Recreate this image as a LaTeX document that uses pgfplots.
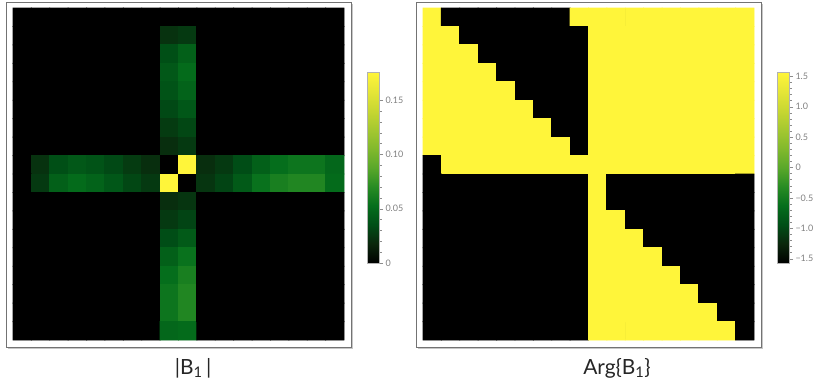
\documentclass[border=0pt]{standalone}
\usepackage{pgfplots}
\pgfplotsset{compat=1.18}
\usepackage{fontspec}
\setmainfont{Lato}

\pgfplotsset{
  colormap={avocado}{rgb255=(0,0,0) rgb255=(10,38,12) rgb255=(0,78,22) rgb255=(5,110,28)
    rgb255=(40,140,35) rgb255=(90,168,42) rgb255=(130,185,45) rgb255=(165,200,48)
    rgb255=(200,215,50) rgb255=(230,230,55) rgb255=(255,245,58)},
  mapaxis/.style={
    scale only axis, width=331bp, height=332bp,
    xmin=-0.5, xmax=17.5, ymin=-0.5, ymax=17.5, y dir=reverse,
    axis line style={draw=none}, ticks=none, clip=false,
    axis background/.style={fill=black},
    colormap name=avocado,
    colorbar,
    colorbar style={
      at={(parent axis.south east)}, anchor=south west, xshift=15bp, yshift=77bp,
      scale only axis, width=12bp, height=191bp, clip=true,
      axis background/.style={},
      axis line style={draw=black!30, line width=0.5bp},
      ytick pos=right, yticklabel pos=right, tick align=outside,
      major tick length=3.5bp, minor tick length=2bp, minor y tick num=4,
      tick style={draw=black!45, line width=0.4bp},
      yticklabel style={font=\fontsize{9}{10}\selectfont, text=black!50, xshift=-1bp},
    },
  },
  % cells with edges in their own colour, so no seams show between them
  cells/.style={matrix plot*, mesh/cols=18, point meta=explicit,
    shader=faceted, faceted color=mapped color, line width=0.9bp,
    line cap=rect, line join=miter},
}

\begin{document}
\begin{tikzpicture}[x=1bp, y=1bp]
\path[use as bounding box] (0,0) rectangle (814,-390);

% magnitude |B_1|
\begin{axis}[mapaxis, at={(13bp,-340bp)}, anchor=south west,
  point meta min=0, point meta max=0.176,
  colorbar style={ytick={0,0.05,0.1,0.15}, yticklabels={0,0.05,0.10,0.15}}]
\addplot[cells] coordinates {
(0,0) [0] (1,0) [0] (2,0) [0] (3,0) [0] (4,0) [0] (5,0) [0] (6,0) [0] (7,0) [0] (8,0) [0] (9,0) [0] (10,0) [0] (11,0) [0] (12,0) [0] (13,0) [0] (14,0) [0] (15,0) [0] (16,0) [0] (17,0) [0]
(0,1) [0] (1,1) [0] (2,1) [0] (3,1) [0] (4,1) [0] (5,1) [0] (6,1) [0] (7,1) [0] (8,1) [0.023] (9,1) [0.026] (10,1) [0] (11,1) [0] (12,1) [0] (13,1) [0] (14,1) [0] (15,1) [0] (16,1) [0] (17,1) [0]
(0,2) [0] (1,2) [0] (2,2) [0] (3,2) [0] (4,2) [0] (5,2) [0] (6,2) [0] (7,2) [0] (8,2) [0.036] (9,2) [0.045] (10,2) [0] (11,2) [0] (12,2) [0] (13,2) [0] (14,2) [0] (15,2) [0] (16,2) [0] (17,2) [0]
(0,3) [0] (1,3) [0] (2,3) [0] (3,3) [0] (4,3) [0] (5,3) [0] (6,3) [0] (7,3) [0] (8,3) [0.041] (9,3) [0.051] (10,3) [0] (11,3) [0] (12,3) [0] (13,3) [0] (14,3) [0] (15,3) [0] (16,3) [0] (17,3) [0]
(0,4) [0] (1,4) [0] (2,4) [0] (3,4) [0] (4,4) [0] (5,4) [0] (6,4) [0] (7,4) [0] (8,4) [0.038] (9,4) [0.047] (10,4) [0] (11,4) [0] (12,4) [0] (13,4) [0] (14,4) [0] (15,4) [0] (16,4) [0] (17,4) [0]
(0,5) [0] (1,5) [0] (2,5) [0] (3,5) [0] (4,5) [0] (5,5) [0] (6,5) [0] (7,5) [0] (8,5) [0.033] (9,5) [0.040] (10,5) [0] (11,5) [0] (12,5) [0] (13,5) [0] (14,5) [0] (15,5) [0] (16,5) [0] (17,5) [0]
(0,6) [0] (1,6) [0] (2,6) [0] (3,6) [0] (4,6) [0] (5,6) [0] (6,6) [0] (7,6) [0] (8,6) [0.027] (9,6) [0.032] (10,6) [0] (11,6) [0] (12,6) [0] (13,6) [0] (14,6) [0] (15,6) [0] (16,6) [0] (17,6) [0]
(0,7) [0] (1,7) [0] (2,7) [0] (3,7) [0] (4,7) [0] (5,7) [0] (6,7) [0] (7,7) [0] (8,7) [0.021] (9,7) [0.026] (10,7) [0] (11,7) [0] (12,7) [0] (13,7) [0] (14,7) [0] (15,7) [0] (16,7) [0] (17,7) [0]
(0,8) [0] (1,8) [0.023] (2,8) [0.036] (3,8) [0.041] (4,8) [0.038] (5,8) [0.033] (6,8) [0.027] (7,8) [0.021] (8,8) [0] (9,8) [0.176] (10,8) [0.021] (11,8) [0.026] (12,8) [0.035] (13,8) [0.045] (14,8) [0.053] (15,8) [0.057] (16,8) [0.057] (17,8) [0.049]
(0,9) [0] (1,9) [0.026] (2,9) [0.045] (3,9) [0.051] (4,9) [0.047] (5,9) [0.040] (6,9) [0.032] (7,9) [0.026] (8,9) [0.176] (9,9) [0] (10,9) [0.024] (11,9) [0.031] (12,9) [0.042] (13,9) [0.055] (14,9) [0.063] (15,9) [0.067] (16,9) [0.067] (17,9) [0.051]
(0,10) [0] (1,10) [0] (2,10) [0] (3,10) [0] (4,10) [0] (5,10) [0] (6,10) [0] (7,10) [0] (8,10) [0.021] (9,10) [0.024] (10,10) [0] (11,10) [0] (12,10) [0] (13,10) [0] (14,10) [0] (15,10) [0] (16,10) [0] (17,10) [0]
(0,11) [0] (1,11) [0] (2,11) [0] (3,11) [0] (4,11) [0] (5,11) [0] (6,11) [0] (7,11) [0] (8,11) [0.026] (9,11) [0.031] (10,11) [0] (11,11) [0] (12,11) [0] (13,11) [0] (14,11) [0] (15,11) [0] (16,11) [0] (17,11) [0]
(0,12) [0] (1,12) [0] (2,12) [0] (3,12) [0] (4,12) [0] (5,12) [0] (6,12) [0] (7,12) [0] (8,12) [0.035] (9,12) [0.042] (10,12) [0] (11,12) [0] (12,12) [0] (13,12) [0] (14,12) [0] (15,12) [0] (16,12) [0] (17,12) [0]
(0,13) [0] (1,13) [0] (2,13) [0] (3,13) [0] (4,13) [0] (5,13) [0] (6,13) [0] (7,13) [0] (8,13) [0.045] (9,13) [0.055] (10,13) [0] (11,13) [0] (12,13) [0] (13,13) [0] (14,13) [0] (15,13) [0] (16,13) [0] (17,13) [0]
(0,14) [0] (1,14) [0] (2,14) [0] (3,14) [0] (4,14) [0] (5,14) [0] (6,14) [0] (7,14) [0] (8,14) [0.053] (9,14) [0.063] (10,14) [0] (11,14) [0] (12,14) [0] (13,14) [0] (14,14) [0] (15,14) [0] (16,14) [0] (17,14) [0]
(0,15) [0] (1,15) [0] (2,15) [0] (3,15) [0] (4,15) [0] (5,15) [0] (6,15) [0] (7,15) [0] (8,15) [0.057] (9,15) [0.067] (10,15) [0] (11,15) [0] (12,15) [0] (13,15) [0] (14,15) [0] (15,15) [0] (16,15) [0] (17,15) [0]
(0,16) [0] (1,16) [0] (2,16) [0] (3,16) [0] (4,16) [0] (5,16) [0] (6,16) [0] (7,16) [0] (8,16) [0.057] (9,16) [0.067] (10,16) [0] (11,16) [0] (12,16) [0] (13,16) [0] (14,16) [0] (15,16) [0] (16,16) [0] (17,16) [0]
(0,17) [0] (1,17) [0] (2,17) [0] (3,17) [0] (4,17) [0] (5,17) [0] (6,17) [0] (7,17) [0] (8,17) [0.049] (9,17) [0.051] (10,17) [0] (11,17) [0] (12,17) [0] (13,17) [0] (14,17) [0] (15,17) [0] (16,17) [0] (17,17) [0]
};
\end{axis}

% phase Arg{B_1}
\begin{axis}[mapaxis, at={(423bp,-340bp)}, anchor=south west,
  point meta min=-1.5708, point meta max=1.5708,
  colorbar style={ytick={-1.5,-1,-0.5,0,0.5,1,1.5},
    yticklabels={−1.5,−1.0,−0.5,0,0.5,1.0,1.5}}]
\addplot[cells] coordinates {
(0,0) [1.571] (1,0) [-1.571] (2,0) [-1.571] (3,0) [-1.571] (4,0) [-1.571] (5,0) [-1.571] (6,0) [-1.571] (7,0) [-1.571] (8,0) [1.571] (9,0) [1.571] (10,0) [1.571] (11,0) [1.571] (12,0) [1.571] (13,0) [1.571] (14,0) [1.571] (15,0) [1.571] (16,0) [1.571] (17,0) [1.571]
(0,1) [1.571] (1,1) [1.571] (2,1) [-1.571] (3,1) [-1.571] (4,1) [-1.571] (5,1) [-1.571] (6,1) [-1.571] (7,1) [-1.571] (8,1) [-1.571] (9,1) [1.571] (10,1) [1.571] (11,1) [1.571] (12,1) [1.571] (13,1) [1.571] (14,1) [1.571] (15,1) [1.571] (16,1) [1.571] (17,1) [1.571]
(0,2) [1.571] (1,2) [1.571] (2,2) [1.571] (3,2) [-1.571] (4,2) [-1.571] (5,2) [-1.571] (6,2) [-1.571] (7,2) [-1.571] (8,2) [-1.571] (9,2) [1.571] (10,2) [1.571] (11,2) [1.571] (12,2) [1.571] (13,2) [1.571] (14,2) [1.571] (15,2) [1.571] (16,2) [1.571] (17,2) [1.571]
(0,3) [1.571] (1,3) [1.571] (2,3) [1.571] (3,3) [1.571] (4,3) [-1.571] (5,3) [-1.571] (6,3) [-1.571] (7,3) [-1.571] (8,3) [-1.571] (9,3) [1.571] (10,3) [1.571] (11,3) [1.571] (12,3) [1.571] (13,3) [1.571] (14,3) [1.571] (15,3) [1.571] (16,3) [1.571] (17,3) [1.571]
(0,4) [1.571] (1,4) [1.571] (2,4) [1.571] (3,4) [1.571] (4,4) [1.571] (5,4) [-1.571] (6,4) [-1.571] (7,4) [-1.571] (8,4) [-1.571] (9,4) [1.571] (10,4) [1.571] (11,4) [1.571] (12,4) [1.571] (13,4) [1.571] (14,4) [1.571] (15,4) [1.571] (16,4) [1.571] (17,4) [1.571]
(0,5) [1.571] (1,5) [1.571] (2,5) [1.571] (3,5) [1.571] (4,5) [1.571] (5,5) [1.571] (6,5) [-1.571] (7,5) [-1.571] (8,5) [-1.571] (9,5) [1.571] (10,5) [1.571] (11,5) [1.571] (12,5) [1.571] (13,5) [1.571] (14,5) [1.571] (15,5) [1.571] (16,5) [1.571] (17,5) [1.571]
(0,6) [1.571] (1,6) [1.571] (2,6) [1.571] (3,6) [1.571] (4,6) [1.571] (5,6) [1.571] (6,6) [1.571] (7,6) [-1.571] (8,6) [-1.571] (9,6) [1.571] (10,6) [1.571] (11,6) [1.571] (12,6) [1.571] (13,6) [1.571] (14,6) [1.571] (15,6) [1.571] (16,6) [1.571] (17,6) [1.571]
(0,7) [1.571] (1,7) [1.571] (2,7) [1.571] (3,7) [1.571] (4,7) [1.571] (5,7) [1.571] (6,7) [1.571] (7,7) [1.571] (8,7) [-1.571] (9,7) [1.571] (10,7) [1.571] (11,7) [1.571] (12,7) [1.571] (13,7) [1.571] (14,7) [1.571] (15,7) [1.571] (16,7) [1.571] (17,7) [1.571]
(0,8) [-1.571] (1,8) [1.571] (2,8) [1.571] (3,8) [1.571] (4,8) [1.571] (5,8) [1.571] (6,8) [1.571] (7,8) [1.571] (8,8) [1.571] (9,8) [1.571] (10,8) [1.571] (11,8) [1.571] (12,8) [1.571] (13,8) [1.571] (14,8) [1.571] (15,8) [1.571] (16,8) [1.571] (17,8) [1.571]
(0,9) [-1.571] (1,9) [-1.571] (2,9) [-1.571] (3,9) [-1.571] (4,9) [-1.571] (5,9) [-1.571] (6,9) [-1.571] (7,9) [-1.571] (8,9) [-1.571] (9,9) [1.571] (10,9) [-1.571] (11,9) [-1.571] (12,9) [-1.571] (13,9) [-1.571] (14,9) [-1.571] (15,9) [-1.571] (16,9) [-1.571] (17,9) [-1.571]
(0,10) [-1.571] (1,10) [-1.571] (2,10) [-1.571] (3,10) [-1.571] (4,10) [-1.571] (5,10) [-1.571] (6,10) [-1.571] (7,10) [-1.571] (8,10) [-1.571] (9,10) [1.571] (10,10) [-1.571] (11,10) [-1.571] (12,10) [-1.571] (13,10) [-1.571] (14,10) [-1.571] (15,10) [-1.571] (16,10) [-1.571] (17,10) [-1.571]
(0,11) [-1.571] (1,11) [-1.571] (2,11) [-1.571] (3,11) [-1.571] (4,11) [-1.571] (5,11) [-1.571] (6,11) [-1.571] (7,11) [-1.571] (8,11) [-1.571] (9,11) [1.571] (10,11) [1.571] (11,11) [-1.571] (12,11) [-1.571] (13,11) [-1.571] (14,11) [-1.571] (15,11) [-1.571] (16,11) [-1.571] (17,11) [-1.571]
(0,12) [-1.571] (1,12) [-1.571] (2,12) [-1.571] (3,12) [-1.571] (4,12) [-1.571] (5,12) [-1.571] (6,12) [-1.571] (7,12) [-1.571] (8,12) [-1.571] (9,12) [1.571] (10,12) [1.571] (11,12) [1.571] (12,12) [-1.571] (13,12) [-1.571] (14,12) [-1.571] (15,12) [-1.571] (16,12) [-1.571] (17,12) [-1.571]
(0,13) [-1.571] (1,13) [-1.571] (2,13) [-1.571] (3,13) [-1.571] (4,13) [-1.571] (5,13) [-1.571] (6,13) [-1.571] (7,13) [-1.571] (8,13) [-1.571] (9,13) [1.571] (10,13) [1.571] (11,13) [1.571] (12,13) [1.571] (13,13) [-1.571] (14,13) [-1.571] (15,13) [-1.571] (16,13) [-1.571] (17,13) [-1.571]
(0,14) [-1.571] (1,14) [-1.571] (2,14) [-1.571] (3,14) [-1.571] (4,14) [-1.571] (5,14) [-1.571] (6,14) [-1.571] (7,14) [-1.571] (8,14) [-1.571] (9,14) [1.571] (10,14) [1.571] (11,14) [1.571] (12,14) [1.571] (13,14) [1.571] (14,14) [-1.571] (15,14) [-1.571] (16,14) [-1.571] (17,14) [-1.571]
(0,15) [-1.571] (1,15) [-1.571] (2,15) [-1.571] (3,15) [-1.571] (4,15) [-1.571] (5,15) [-1.571] (6,15) [-1.571] (7,15) [-1.571] (8,15) [-1.571] (9,15) [1.571] (10,15) [1.571] (11,15) [1.571] (12,15) [1.571] (13,15) [1.571] (14,15) [1.571] (15,15) [-1.571] (16,15) [-1.571] (17,15) [-1.571]
(0,16) [-1.571] (1,16) [-1.571] (2,16) [-1.571] (3,16) [-1.571] (4,16) [-1.571] (5,16) [-1.571] (6,16) [-1.571] (7,16) [-1.571] (8,16) [-1.571] (9,16) [1.571] (10,16) [1.571] (11,16) [1.571] (12,16) [1.571] (13,16) [1.571] (14,16) [1.571] (15,16) [1.571] (16,16) [-1.571] (17,16) [-1.571]
(0,17) [-1.571] (1,17) [-1.571] (2,17) [-1.571] (3,17) [-1.571] (4,17) [-1.571] (5,17) [-1.571] (6,17) [-1.571] (7,17) [-1.571] (8,17) [-1.571] (9,17) [1.571] (10,17) [1.571] (11,17) [1.571] (12,17) [1.571] (13,17) [1.571] (14,17) [1.571] (15,17) [1.571] (16,17) [1.571] (17,17) [-1.571]
};
\end{axis}

% frames round the two panels
\foreach \x in {6.5, 416.5} {
  \draw[black!22, line width=0.8] (\x+345.5,-3.5) -- (\x+345.5,-348.5) -- (\x+1,-348.5);
  \draw[black!55, line width=0.8] (\x,-2.5) rectangle (\x+344.5,-347.5);
}

% panel titles
\node[anchor=base, font=\fontsize{21}{24}\selectfont, text=black!85] at (193,-374) {|B\textsubscript{1}\,|};
\node[anchor=base, font=\fontsize{21}{24}\selectfont, text=black!85] at (617,-374) {Arg\{B\textsubscript{1}\}};
\end{tikzpicture}
\end{document}
